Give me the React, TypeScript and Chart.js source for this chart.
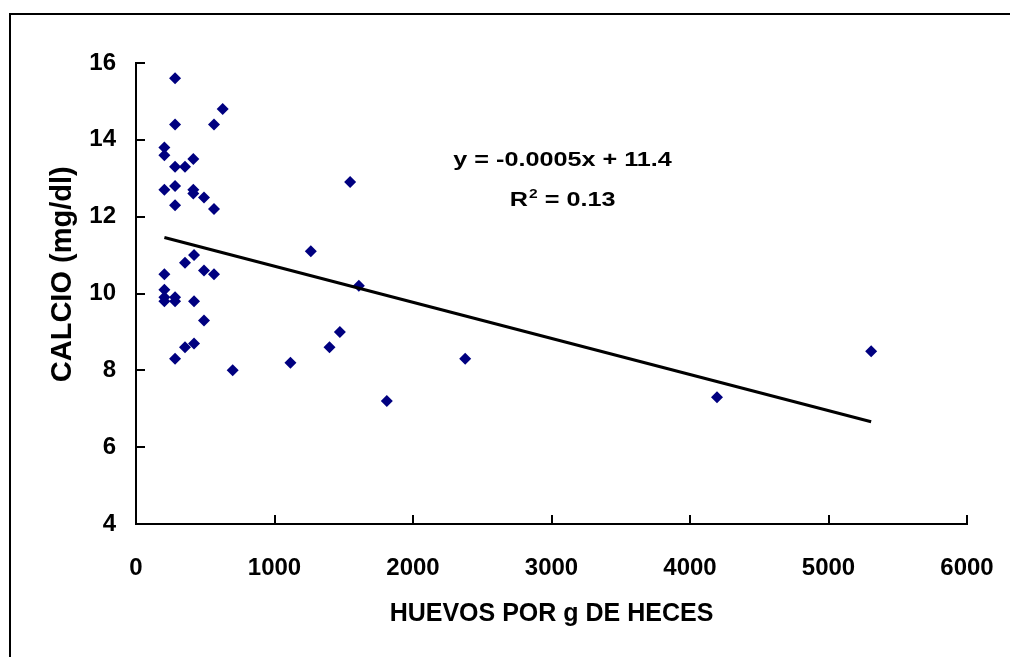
import React, { useEffect, useRef } from 'react';
import { Chart, registerables } from 'chart.js';

Chart.register(...registerables);

// Huevos por g de heces (x) and calcio mg/dl (y)
const huevos = [
  282, 626, 282, 563, 205, 205, 414, 282, 354, 205, 282, 414, 414, 491, 282, 563,
  419, 354, 491, 563, 205, 205, 205, 205, 282, 282, 419, 491, 419, 354, 282, 698,
  1546, 1262, 1609, 1472, 1397, 1115, 1811, 2377, 5308, 4195,
];
const calcio = [
  15.6, 14.8, 14.4, 14.4, 13.8, 13.6, 13.5, 13.3, 13.3, 12.7, 12.8, 12.7, 12.6, 12.5, 12.3, 12.2,
  11.0, 10.8, 10.6, 10.5, 10.5, 10.1, 9.9, 9.8, 9.9, 9.8, 9.8, 9.3, 8.7, 8.6, 8.3, 8.0,
  12.9, 11.1, 10.2, 9.0, 8.6, 8.2, 7.2, 8.3, 8.5, 7.3,
];

// trend line as drawn in the picture
const trendSlope = -0.00094;
const trendIntercept = 11.65;

const xTicks = [0, 1000, 2000, 3000, 4000, 5000, 6000];
const yTicks = [4, 6, 8, 10, 12, 14, 16];

const eqLine1 = 'y = -0.0005x + 11.4';
const r2Label = 'R';
const r2Sup = '2';
const r2Value = ' = 0.13';
const eqCenterX = 3080;
const eqLine1Y = 13.32;
const eqLine2Y = 12.28;

const xTitle = 'HUEVOS POR g DE HECES';
const yTitle = 'CALCIO (mg/dl)';
const yTitleCenterValue = 10.5;

const FONT = "'Liberation Sans', Arial, sans-serif";
const EQ_STRETCH = 1.2;

const decorPlugin = {
  id: 'decor',
  beforeDraw(chart: any) {
    const ctx = chart.ctx;
    ctx.save();
    ctx.fillStyle = '#fff';
    ctx.fillRect(0, 0, chart.width, chart.height);
    ctx.strokeStyle = '#000';
    ctx.lineWidth = 2;
    ctx.strokeRect(10, 14, 1200, 1000);
    ctx.restore();
  },
  afterDraw(chart: any) {
    const ctx = chart.ctx;
    const xs = chart.scales.x;
    const ys = chart.scales.y;
    const area = chart.chartArea;
    ctx.save();
    ctx.strokeStyle = '#000';
    ctx.lineWidth = 2;
    ctx.beginPath();
    xTicks.forEach((t) => {
      const px = Math.round(xs.getPixelForValue(t));
      ctx.moveTo(px, area.bottom);
      ctx.lineTo(px, area.bottom - 9);
    });
    yTicks.forEach((t) => {
      const py = Math.round(ys.getPixelForValue(t));
      ctx.moveTo(area.left, py);
      ctx.lineTo(area.left + 9, py);
    });
    ctx.stroke();

    // y axis title
    ctx.fillStyle = '#000';
    ctx.save();
    ctx.font = `bold 29px ${FONT}`;
    ctx.translate(70.5, ys.getPixelForValue(yTitleCenterValue));
    ctx.rotate(-Math.PI / 2);
    ctx.textAlign = 'center';
    ctx.textBaseline = 'alphabetic';
    ctx.fillText(yTitle, 0, 0);
    ctx.restore();

    // equation (horizontally stretched text, centred)
    const cx = xs.getPixelForValue(eqCenterX);
    ctx.save();
    ctx.translate(cx, 0);
    ctx.scale(EQ_STRETCH, 1);
    ctx.textBaseline = 'alphabetic';
    ctx.font = `bold 21px ${FONT}`;
    ctx.textAlign = 'center';
    ctx.fillText(eqLine1, 0, ys.getPixelForValue(eqLine1Y));
    const y2 = ys.getPixelForValue(eqLine2Y);
    const wR = ctx.measureText(r2Label).width;
    const wVal = ctx.measureText(r2Value).width;
    ctx.font = `bold 13px ${FONT}`;
    const wSup = ctx.measureText(r2Sup).width;
    const total = wR + wSup + 1 + wVal;
    let x0 = -total / 2;
    ctx.textAlign = 'left';
    ctx.font = `bold 21px ${FONT}`;
    ctx.fillText(r2Label, x0, y2);
    x0 += wR + 1;
    ctx.font = `bold 13px ${FONT}`;
    ctx.fillText(r2Sup, x0, y2 - 8);
    x0 += wSup;
    ctx.font = `bold 21px ${FONT}`;
    ctx.fillText(r2Value, x0, y2);
    ctx.restore();
    ctx.restore();
  },
};

export default function App() {
  const ref = useRef<HTMLCanvasElement | null>(null);

  useEffect(() => {
    if (!ref.current) return;
    const points = huevos.map((h, i) => ({ x: h, y: calcio[i] }));
    const minX = Math.min(...huevos);
    const maxX = Math.max(...huevos);
    const trend = [
      { x: minX, y: trendIntercept + trendSlope * minX },
      { x: maxX, y: trendIntercept + trendSlope * maxX },
    ];
    const tickFont = { family: FONT, size: 24, weight: 'bold' as const };
    const titleFont = { family: FONT, size: 25, weight: 'bold' as const, lineHeight: 1.2 };
    const chart = new Chart(ref.current, {
      type: 'scatter',
      data: {
        datasets: [
          {
            data: points,
            pointStyle: 'rectRot',
            pointRadius: 6,
            pointBackgroundColor: '#000080',
            pointBorderWidth: 0,
            backgroundColor: '#000080',
            borderColor: '#000080',
            order: 1,
          },
          {
            data: trend,
            showLine: true,
            borderColor: '#000',
            borderWidth: 3,
            pointRadius: 0,
            order: 0,
          } as any,
        ],
      },
      options: {
        responsive: false,
        animation: false,
        layout: { padding: { top: 63, right: 43, left: 0, bottom: 0 } },
        plugins: { legend: { display: false }, tooltip: { enabled: false } },
        scales: {
          x: {
            type: 'linear',
            min: 0,
            max: 6000,
            afterBuildTicks: (s: any) => { s.ticks = xTicks.map((v) => ({ value: v })); },
            ticks: { color: '#000', font: tickFont, padding: 0, maxRotation: 0, callback: (v: any) => String(v) },
            grid: { display: false, drawTicks: true, tickLength: 30, tickColor: 'rgba(0,0,0,0)' },
            border: { display: true, color: '#000', width: 2 },
            title: { display: true, text: xTitle, color: '#000', font: titleFont, padding: { top: 0, bottom: 28 } },
            afterFit: (s: any) => { s.height = 133; },
          },
          y: {
            type: 'linear',
            min: 4,
            max: 16,
            afterBuildTicks: (s: any) => { s.ticks = yTicks.map((v) => ({ value: v })); },
            ticks: { color: '#000', font: tickFont, padding: 0, callback: (v: any) => String(v) },
            grid: { display: false, drawTicks: true, tickLength: 20, tickColor: 'rgba(0,0,0,0)' },
            border: { display: true, color: '#000', width: 2 },
            title: { display: false, text: yTitle },
            afterFit: (s: any) => { s.width = 136; },
          },
        },
      },
      plugins: [decorPlugin],
    });
    return () => chart.destroy();
  }, []);

  return (
    <div style={{ position: 'absolute', left: 0, top: 0, width: 1010, height: 657, overflow: 'hidden', background: '#fff' }}>
      <canvas ref={ref} width={1010} height={657} style={{ display: 'block' }} />
    </div>
  );
}
